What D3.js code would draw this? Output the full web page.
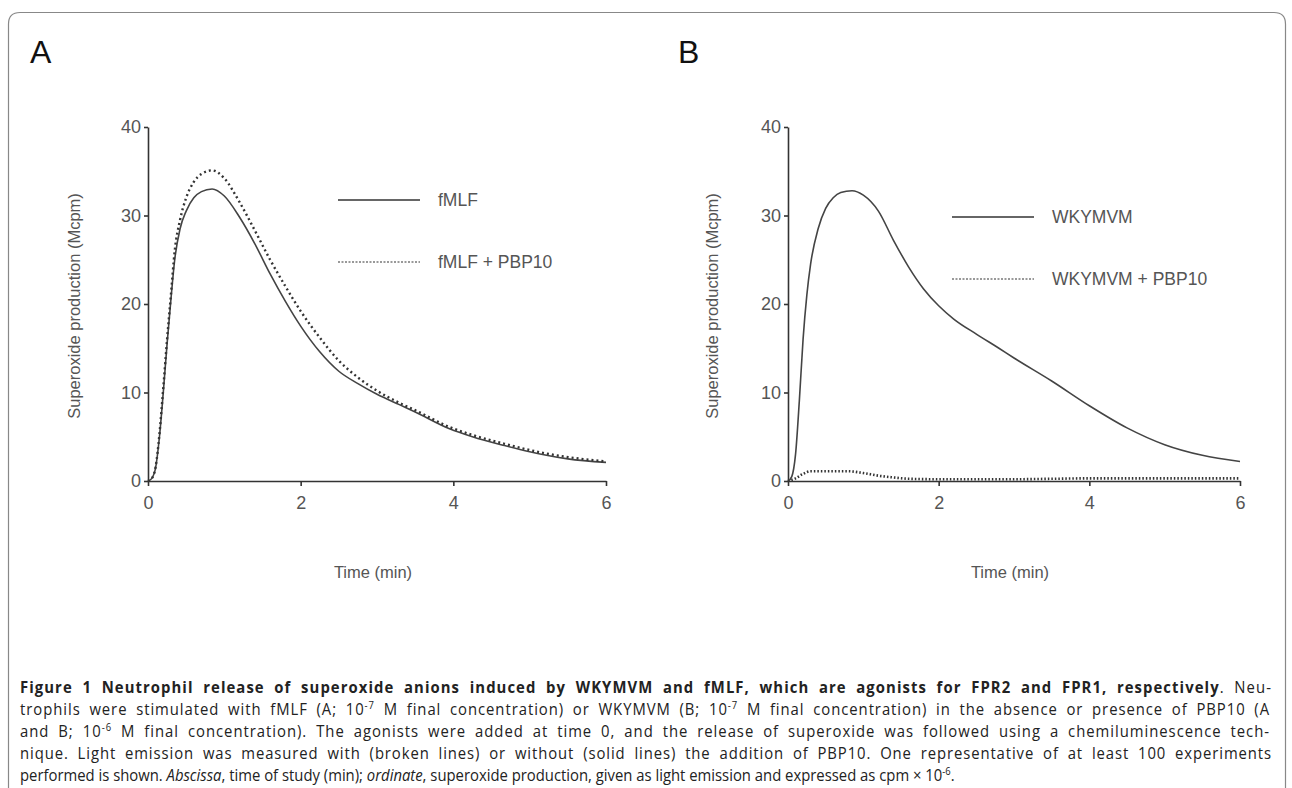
<!DOCTYPE html>
<html>
<head>
<meta charset="utf-8">
<script src="https://cdn.jsdelivr.net/npm/d3@7"></script>
<style>
    body { margin: 0; background: #fff; }
    svg  { display: block; }
</style>
</head>
<body>
<svg id="fig" width="1292" height="788"></svg>
<script>
// panel A: fMLF with / without PBP10
const timeA       = [0, 0.05, 0.1, 0.15, 0.2, 0.25, 0.3, 0.35, 0.42, 0.5, 0.6, 0.7, 0.84, 1.0, 1.2, 1.4, 1.6, 1.8, 2.0, 2.25, 2.5, 2.75, 3.0, 3.3, 3.5, 3.95, 4.25, 4.67, 5.0, 5.22, 5.5, 6.0];
const fmlf        = [0, 0.3, 1.5, 5, 10, 15.5, 20.5, 25, 28.5, 30.5, 32, 32.7, 33, 32.2, 29.8, 26.8, 23.4, 20.3, 17.5, 14.6, 12.4, 11.0, 9.8, 8.6, 7.8, 5.9, 5.0, 4.0, 3.3, 2.9, 2.5, 2.1];
const fmlfPbp10   = [0, 0.3, 1.6, 5.3, 10.5, 16, 21, 26, 29.5, 32, 33.8, 34.7, 35.1, 34.2, 31.5, 28.3, 25, 22, 19.2, 16.2, 13.6, 11.7, 10.2, 8.8, 8.0, 6.1, 5.2, 4.2, 3.5, 3.1, 2.7, 2.2];

// panel B: WKYMVM with / without PBP10
const timeB       = [0, 0.05, 0.1, 0.15, 0.2, 0.25, 0.3, 0.4, 0.5, 0.6, 0.7, 0.85, 1.0, 1.2, 1.4, 1.6, 1.8, 2.0, 2.2, 2.5, 2.8, 3.0, 3.5, 4.0, 4.5, 5.0, 5.5, 6.0];
const wkymvm      = [0, 0.5, 3, 9, 16, 21, 24.5, 28.5, 30.8, 32, 32.6, 32.8, 32.3, 30.5, 27.2, 24.2, 21.7, 19.8, 18.3, 16.6, 15.0, 13.9, 11.3, 8.5, 6.0, 4.1, 2.9, 2.2];
const timeB2      = [0, 0.1, 0.2, 0.3, 0.5, 0.8, 1.0, 1.2, 1.4, 1.6, 2.0, 2.5, 3.0, 3.5, 4.0, 4.5, 5.0, 5.5, 6.0];
const wkymvmPbp10 = [0, 0.3, 0.8, 1.1, 1.1, 1.1, 0.9, 0.6, 0.4, 0.25, 0.2, 0.2, 0.2, 0.25, 0.3, 0.3, 0.3, 0.3, 0.3];

const xTicks = [0, 2, 4, 6];
const yTicks = [0, 10, 20, 30, 40];

const legendA = ['fMLF', 'fMLF + PBP10'];
const legendB = ['WKYMVM', 'WKYMVM + PBP10'];

const chartFont = '"Liberation Sans", Arial, sans-serif';
const capFont   = '"Open Sans", "Noto Sans", sans-serif';
const grey      = '#555';

let svg = d3.select('#fig');

// rounded frame, open at the bottom
svg.append('path')
    .attr('d', 'M8.5,800 L8.5,24 Q8.5,12.5 20,12.5 L1274,12.5 Q1285.5,12.5 1285.5,24 L1285.5,800')
    .attr('fill', 'none')
    .attr('stroke', '#888')
    .attr('stroke-width', 1.2);

function drawPanel (opt) {
    let x = d3.scaleLinear().domain([0, 6]).range([opt.left, opt.right]);
    let y = d3.scaleLinear().domain([0, 40]).range([481, 127]);

    let g = svg.append('g');

    g.append('text')
        .attr('x', opt.letterX)
        .attr('y', 63)
        .attr('font-family', chartFont)
        .attr('font-size', 32)
        .attr('fill', '#111')
        .text(opt.letter);

    let xAxis
        = d3.axisBottom(x)
            .tickValues(xTicks)
            .tickSize(5)
            .tickSizeOuter(0)
            .tickPadding(10)
            .tickFormat(d3.format('d'));

    let yAxis
        = d3.axisLeft(y)
            .tickValues(yTicks)
            .tickSize(4)
            .tickSizeOuter(0)
            .tickPadding(3)
            .tickFormat(d3.format('d'));

    let gx = g.append('g')
        .attr('transform', 'translate(0,' + y(0) + ')')
        .call(xAxis);

    let gy = g.append('g')
        .attr('transform', 'translate(' + opt.left + ',0)')
        .call(yAxis);

    [gx, gy].forEach(a => {
        a.selectAll('path, line').attr('stroke', '#333').attr('stroke-width', 1.6);
        a.selectAll('text')
            .attr('font-family', chartFont)
            .attr('font-size', 18)
            .attr('fill', grey);
    });

    g.append('text')
        .attr('transform', 'translate(' + opt.titleX + ',' + (y(20) + 2) + ') rotate(-90)')
        .attr('text-anchor', 'middle')
        .attr('font-family', chartFont)
        .attr('font-size', 16.5)
        .attr('fill', grey)
        .text('Superoxide production (Mcpm)');

    g.append('text')
        .attr('x', (opt.left + opt.right) / 2 - 4)
        .attr('y', 578)
        .attr('text-anchor', 'middle')
        .attr('font-family', chartFont)
        .attr('font-size', 16.5)
        .attr('fill', grey)
        .text('Time (min)');

    let line
        = d3.line()
            .x(d => x(d[0]))
            .y(d => y(d[1]))
            .curve(d3.curveMonotoneX);

    g.append('path')
        .datum(d3.zip(opt.t1, opt.s1))
        .attr('d', line)
        .attr('fill', 'none')
        .attr('stroke', '#444')
        .attr('stroke-width', 1.6);

    g.append('path')
        .datum(d3.zip(opt.t2, opt.s2))
        .attr('d', line)
        .attr('fill', 'none')
        .attr('stroke', '#333')
        .attr('stroke-width', opt.dotWidth)
        .attr('stroke-dasharray', opt.dash);

    // legend
    opt.legend.forEach((name, i) => {
        let ly = opt.legendY + i * 62;
        g.append('line')
            .attr('x1', opt.legendX)
            .attr('x2', opt.legendX + 82)
            .attr('y1', ly)
            .attr('y2', ly)
            .attr('stroke', i === 0 ? '#333' : '#999')
            .attr('stroke-width', i === 0 ? 1.6 : 2.2)
            .attr('stroke-dasharray', i === 0 ? null : '2,1.5');
        g.append('text')
            .attr('x', opt.legendX + 100)
            .attr('y', ly + 6)
            .attr('font-family', chartFont)
            .attr('font-size', 17.5)
            .attr('fill', grey)
            .text(name);
    });
}

drawPanel({
    letter: 'A', letterX: 30, left: 148, right: 606, titleX: 80,
    t1: timeA, s1: fmlf, t2: timeA, s2: fmlfPbp10,
    dotWidth: 2.4, dash: '2,3',
    legend: legendA, legendX: 338, legendY: 200
});

drawPanel({
    letter: 'B', letterX: 678, left: 788, right: 1240, titleX: 718,
    t1: timeB, s1: wkymvm, t2: timeB2, s2: wkymvmPbp10,
    dotWidth: 2.6, dash: '1.5,2',
    legend: legendB, legendX: 952, legendY: 217
});

// caption: justified lines, the last one left short
const capLines = [
    [['b', 'Figure 1 Neutrophil release of superoxide anions induced by WKYMVM and fMLF, which are agonists for FPR2 and FPR1, respectively'], ['n', '. Neu-']],
    [['n', 'trophils were stimulated with fMLF (A; 10'], ['s', '-7'], ['n', ' M final concentration) or WKYMVM (B; 10'], ['s', '-7'], ['n', ' M final concentration) in the absence or presence of PBP10 (A']],
    [['n', 'and B; 10'], ['s', '-6'], ['n', ' M final concentration). The agonists were added at time 0, and the release of superoxide was followed using a chemiluminescence tech-']],
    [['n', 'nique. Light emission was measured with (broken lines) or without (solid lines) the addition of PBP10. One representative of at least 100 experiments']],
    [['n', 'performed is shown. '], ['i', 'Abscissa'], ['n', ', time of study (min); '], ['i', 'ordinate'], ['n', ', superoxide production, given as light emission and expressed as cpm \u00d7 10'], ['s', '-6'], ['n', '.']]
];
const capWidths = [1252, 1250, 1250, 1252, 935];

let capTexts = capLines.map((parts, i) => {
    let g = svg.append('g');
    let t = g.append('text')
        .attr('x', 0)
        .attr('y', 0)
        .attr('font-family', capFont)
        .attr('font-size', 16.5)
        .attr('fill', '#222');

    parts.forEach((p, k) => {
        let s = t.append('tspan').text(p[1]);
        if (p[0] === 'b') s.attr('font-weight', 'bold');
        if (p[0] === 'i') s.attr('font-style', 'italic');
        if (p[0] === 's') s.attr('font-size', 10.5).attr('dy', -6);
        if (p[0] !== 's' && k > 0 && parts[k - 1][0] === 's') s.attr('dy', 6);
    });
    let str = parts.map(p => p[1]).join('');
    return { g: g, t: t, chars: str.length, spaces: str.split(' ').length - 1 };
});

// horizontal squeeze so the last line keeps its width, like a condensed face
let sx = capWidths[4] / capTexts[4].t.node().getComputedTextLength();

capTexts.forEach((c, i) => {
    c.g.attr('transform', 'translate(20,' + (693 + i * 22) + ') scale(' + sx + ',1)');
    if (i < 4) {
        // share the slack between letters and word gaps
        let slack = capWidths[i] / sx - c.t.node().getComputedTextLength();
        c.t.style('letter-spacing', (slack * 0.6 / c.chars) + 'px');
        c.t.style('word-spacing', (slack * 0.4 / c.spaces) + 'px');
    }
});
</script>
</body>
</html>
